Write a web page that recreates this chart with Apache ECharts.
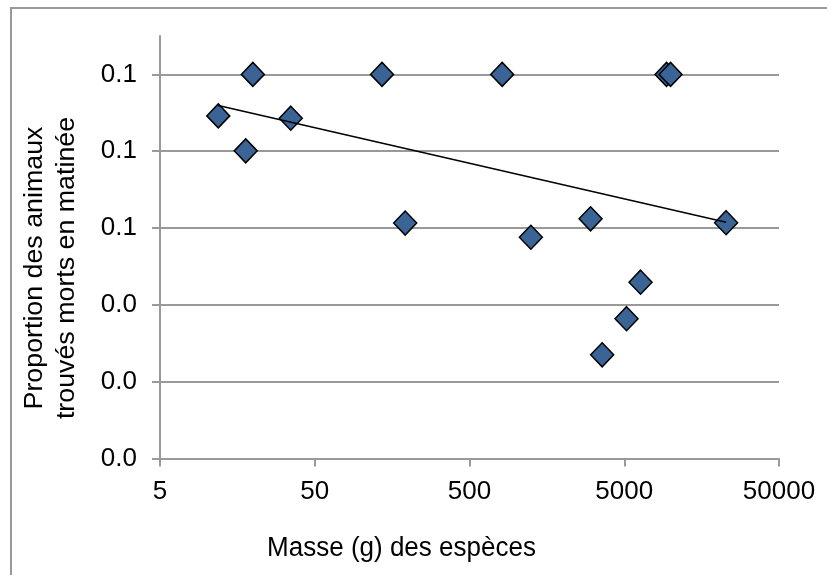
<!DOCTYPE html>
<html><head><meta charset="utf-8">
<script src="https://cdn.jsdelivr.net/npm/echarts@6/dist/echarts.min.js"></script>
<style>
html,body{margin:0;padding:0;overflow:hidden;background:#fff;width:827px;height:575px}
#chart{position:absolute;left:0;top:0;width:827px;height:575px}
#frame{position:absolute;left:10px;top:7px;width:900px;height:700px;border-left:2px solid #999;border-top:2px solid #999;pointer-events:none}
</style></head><body>
<div id="chart"></div><div id="frame"></div>
<script>
// Species mass (g) and proportion of animals found dead in the morning
const masses = [11.9, 17.9, 19.9, 35, 136, 192, 813, 1246, 3029, 3600, 5174, 6372, 9380, 9955, 22760];
const proportions = [0.0892, 0.0801, 0.1, 0.0886, 0.1, 0.0613, 0.1, 0.0576, 0.0624, 0.0270, 0.0364, 0.0459, 0.1, 0.1, 0.0614];
// Trend line end points
const trendMasses = [11.9, 22760];
const trendProportions = [0.0919, 0.0615];
// Tick values
const xTickValues = [5, 50, 500, 5000, 50000];
const yTickValues = [0, 0.02, 0.04, 0.06, 0.08, 0.1];
const xTitle = 'Masse (g) des espèces';
const yTitle = 'Proportion des animaux\ntrouvés morts en matinée';

const FONT = '"Liberation Sans", Arial, sans-serif';
const GRAY = '#999';

const chart = echarts.init(document.getElementById('chart'), null, {renderer: 'canvas'});
chart.setOption({
  animation: false,
  backgroundColor: 'transparent',
  grid: {left: 160, right: 48, top: 36, bottom: 116.5, containLabel: false},
  xAxis: {
    type: 'log', logBase: 10, min: 5, max: 50000,
    axisLine: {show: true, lineStyle: {color: GRAY, width: 2}},
    axisTick: {show: true, length: 8, inside: false, customValues: xTickValues, lineStyle: {color: GRAY, width: 2}},
    axisLabel: {customValues: xTickValues, margin: 20, color: '#000', fontSize: 26, fontFamily: FONT,
      formatter: v => String(Math.round(v))},
    splitLine: {show: false},
    minorTick: {show: false}
  },
  yAxis: {
    type: 'value', min: 0, max: 0.11, interval: 0.02,
    axisLine: {show: true, lineStyle: {color: GRAY, width: 2}},
    axisTick: {show: true, length: 8, inside: false, customValues: yTickValues, lineStyle: {color: GRAY, width: 2}},
    axisLabel: {customValues: yTickValues, margin: 23, color: '#000', fontSize: 26, fontFamily: FONT,
      formatter: v => v.toFixed(1)},
    splitLine: {show: true, lineStyle: {color: GRAY, width: 2}}
  },
  graphic: [
    {type: 'text', x: 401.5, y: 548, scaleY: 1.06, style: {text: xTitle, fill: '#000', font: '26px ' + FONT, align: 'center', verticalAlign: 'middle'}},
    {type: 'text', x: 51, y: 268, rotation: Math.PI / 2, scaleX: 1.03,
      style: {text: yTitle, fill: '#000', font: '26px ' + FONT, align: 'center', verticalAlign: 'middle', lineHeight: 32}}
  ],
  series: [
    {
      type: 'scatter', z: 2,
      data: masses.map((m, i) => [m, proportions[i]]),
      symbol: 'diamond', symbolSize: [23, 24],
      itemStyle: {color: '#3A6496', borderColor: '#000', borderWidth: 1.5, opacity: 1}
    },
    {
      type: 'line', z: 3,
      data: trendMasses.map((m, i) => [m, trendProportions[i]]),
      symbol: 'none', lineStyle: {color: '#000', width: 1.5}
    }
  ]
});
</script>
</body></html>
